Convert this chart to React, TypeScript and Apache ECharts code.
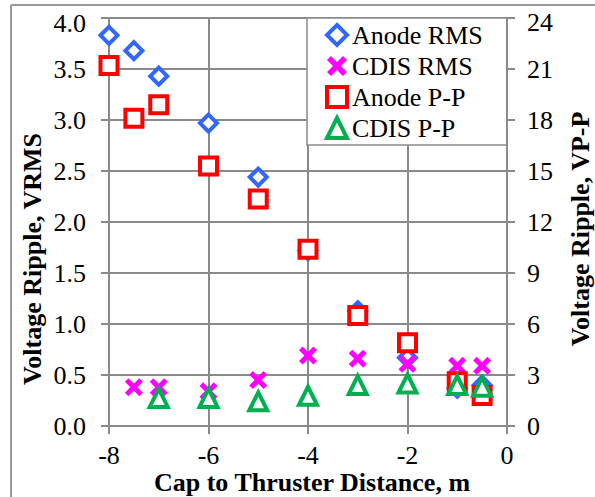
import React, { useEffect, useRef } from "react";
import * as echarts from "echarts";

const anodeRmsX = [-8, -7.5, -7, -6, -5, -4, -3, -2, -1, -0.5];
const anodeRms = [3.83, 3.68, 3.43, 2.97, 2.44, 1.72, 1.13, 0.67, 0.37, 0.4];

const cdisRmsX = [-7.5, -7, -6, -5, -4, -3, -2, -1, -0.5];
const cdisRms = [0.38, 0.38, 0.34, 0.45, 0.69, 0.66, 0.61, 0.59, 0.59];

const anodePPX = [-8, -7.5, -7, -6, -5, -4, -3, -2, -1, -0.5];
const anodePP = [21.2, 18.1, 18.9, 15.3, 13.35, 10.4, 6.5, 4.9, 2.6, 1.8];

const cdisPPX = [-7, -6, -5, -4, -3, -2, -1, -0.5];
const cdisPP = [1.65, 1.65, 1.45, 1.78, 2.41, 2.5, 2.41, 2.31];

const seriesNames = ["Anode RMS", "CDIS RMS", "Anode P-P", "CDIS P-P"];

const xTicks = [-8, -6, -4, -2, 0];
const leftTicks = [0, 0.5, 1, 1.5, 2, 2.5, 3, 3.5, 4];
const rightTicks = [0, 3, 6, 9, 12, 15, 18, 21, 24];

const xTitle = "Cap to Thruster Distance, m";
const leftTitle = "Voltage Ripple, VRMS";
const rightTitle = "Voltage Ripple, VP-P";

const X_PATH =
  "path://M2,0 L5,3 L8,0 L10,2 L7,5 L10,8 L8,10 L5,7 L2,10 L0,8 L3,5 L0,2 Z";

const GRAY = "#8a8a8a";
const FONT = "'Liberation Serif', 'Times New Roman', serif";

function pairs(xs: number[], ys: number[]) {
  return xs.map((x, i) => [x, ys[i]]);
}

export default function App() {
  const ref = useRef<HTMLDivElement>(null);
  useEffect(() => {
    document.body.style.margin = "0";
    if (!ref.current) return;
    const chart = echarts.init(ref.current, undefined, { renderer: "svg" });
    const axisCommon = {
      axisLine: { show: true, onZero: false, lineStyle: { color: GRAY, width: 2 } },
      axisTick: { show: true, length: 8, lineStyle: { color: GRAY, width: 2 } },
      axisLabel: { show: false },
    };
    chart.setOption({
      animation: false,
      grid: { left: 109, right: 88, top: 18, bottom: 71, outerBoundsMode: "none", containLabel: false },
      legend: {
        orient: "vertical",
        left: 307,
        top: 18,
        padding: [4, 24, 4, 18],
        itemGap: 5,
        itemWidth: 20,
        itemHeight: 20,
        backgroundColor: "#fff",
        borderColor: GRAY,
        borderWidth: 1.5,
        textStyle: { fontFamily: FONT, fontSize: 26, color: "#000", lineHeight: 26 },
        data: [
          {
            name: seriesNames[0],
            icon: "diamond",
            itemStyle: { color: "#fff", borderColor: "#3366ff", borderWidth: 4 },
          },
          {
            name: seriesNames[1],
            icon: X_PATH,
            itemStyle: { color: "#ff00ff", borderWidth: 0 },
          },
          {
            name: seriesNames[2],
            icon: "rect",
            itemStyle: { color: "#fff", borderColor: "#ff0000", borderWidth: 4 },
          },
          {
            name: seriesNames[3],
            icon: "triangle",
            itemStyle: { color: "#fff", borderColor: "#00b050", borderWidth: 4 },
          },
        ],
      },
      xAxis: {
        type: "value",
        min: -8,
        max: 0,
        interval: 2,
        ...axisCommon,
        splitLine: { show: true, lineStyle: { color: GRAY, width: 2 } },
      },
      yAxis: [
        {
          type: "value",
          min: 0,
          max: 4,
          interval: 0.5,
          position: "left",
          ...axisCommon,
          splitLine: { show: true, lineStyle: { color: GRAY, width: 2 } },
        },
        {
          type: "value",
          min: 0,
          max: 24,
          interval: 3,
          position: "right",
          ...axisCommon,
          splitLine: { show: false },
        },
      ],
      series: [
        {
          name: seriesNames[0],
          type: "scatter",
          yAxisIndex: 0,
          symbol: "diamond",
          symbolSize: 17,
          itemStyle: { color: "#fff", borderColor: "#3366ff", borderWidth: 4, opacity: 1 },
          data: pairs(anodeRmsX, anodeRms),
        },
        {
          name: seriesNames[1],
          type: "scatter",
          yAxisIndex: 0,
          symbol: X_PATH,
          symbolSize: 18,
          itemStyle: { color: "#ff00ff", opacity: 1 },
          data: pairs(cdisRmsX, cdisRms),
        },
        {
          name: seriesNames[2],
          type: "scatter",
          yAxisIndex: 1,
          symbol: "rect",
          symbolSize: 17,
          itemStyle: { color: "#fff", borderColor: "#ff0000", borderWidth: 4, opacity: 1 },
          data: pairs(anodePPX, anodePP),
        },
        {
          name: seriesNames[3],
          type: "scatter",
          yAxisIndex: 1,
          symbol: "triangle",
          symbolSize: 18,
          itemStyle: { color: "#fff", borderColor: "#00b050", borderWidth: 4, opacity: 1 },
          data: pairs(cdisPPX, cdisPP),
        },
      ],
    });

    const g: any[] = [
      {
        type: "line",
        shape: { x1: 11, y1: 5, x2: 11, y2: 497 },
        style: { stroke: "#999", lineWidth: 2 },
      },
      {
        type: "line",
        shape: { x1: 11, y1: 5, x2: 595, y2: 5 },
        style: { stroke: "#999", lineWidth: 2 },
      },
    ];
    const xAxisY = chart.convertToPixel({ yAxisIndex: 0 }, 0) as number;
    const leftX = chart.convertToPixel({ xAxisIndex: 0 }, -8) as number;
    const rightX = chart.convertToPixel({ xAxisIndex: 0 }, 0) as number;
    xTicks.forEach((v) => {
      const px = chart.convertToPixel({ xAxisIndex: 0 }, v) as number;
      g.push({
        type: "text",
        x: px,
        y: xAxisY + 29,
        style: {
          text: String(v),
          fontFamily: FONT,
          fontSize: 26,
          fill: "#000",
          align: "center",
          verticalAlign: "middle",
        },
      });
    });
    leftTicks.forEach((v) => {
      const py = chart.convertToPixel({ yAxisIndex: 0 }, v) as number;
      g.push({
        type: "text",
        x: leftX - 23,
        y: Math.max(py, 23),
        style: {
          text: v.toFixed(1),
          fontFamily: FONT,
          fontSize: 26,
          fill: "#000",
          align: "right",
          verticalAlign: "middle",
        },
      });
    });
    rightTicks.forEach((v) => {
      const py = chart.convertToPixel({ yAxisIndex: 1 }, v) as number;
      g.push({
        type: "text",
        x: rightX + 20,
        y: Math.max(py, 22),
        style: {
          text: String(v),
          fontFamily: FONT,
          fontSize: 26,
          fill: "#000",
          align: "left",
          verticalAlign: "middle",
        },
      });
    });
    g.push({
      type: "text",
      x: 312,
      y: 482,
      style: {
        text: xTitle,
        fontFamily: FONT,
        fontWeight: "bold",
        fontSize: 26,
        fill: "#000",
        align: "center",
        verticalAlign: "middle",
      },
    });
    g.push({
      type: "text",
      x: 32,
      y: 259,
      rotation: Math.PI / 2,
      style: {
        text: leftTitle,
        fontFamily: FONT,
        fontWeight: "bold",
        fontSize: 26,
        fill: "#000",
        align: "center",
        verticalAlign: "middle",
      },
    });
    g.push({
      type: "text",
      x: 580,
      y: 229,
      rotation: Math.PI / 2,
      style: {
        text: rightTitle,
        fontFamily: FONT,
        fontWeight: "bold",
        fontSize: 26,
        fill: "#000",
        align: "center",
        verticalAlign: "middle",
      },
    });
    chart.setOption({ graphic: g });

    return () => chart.dispose();
  }, []);
  return <div ref={ref} style={{ width: 595, height: 497, background: "#fff" }} />;
}
